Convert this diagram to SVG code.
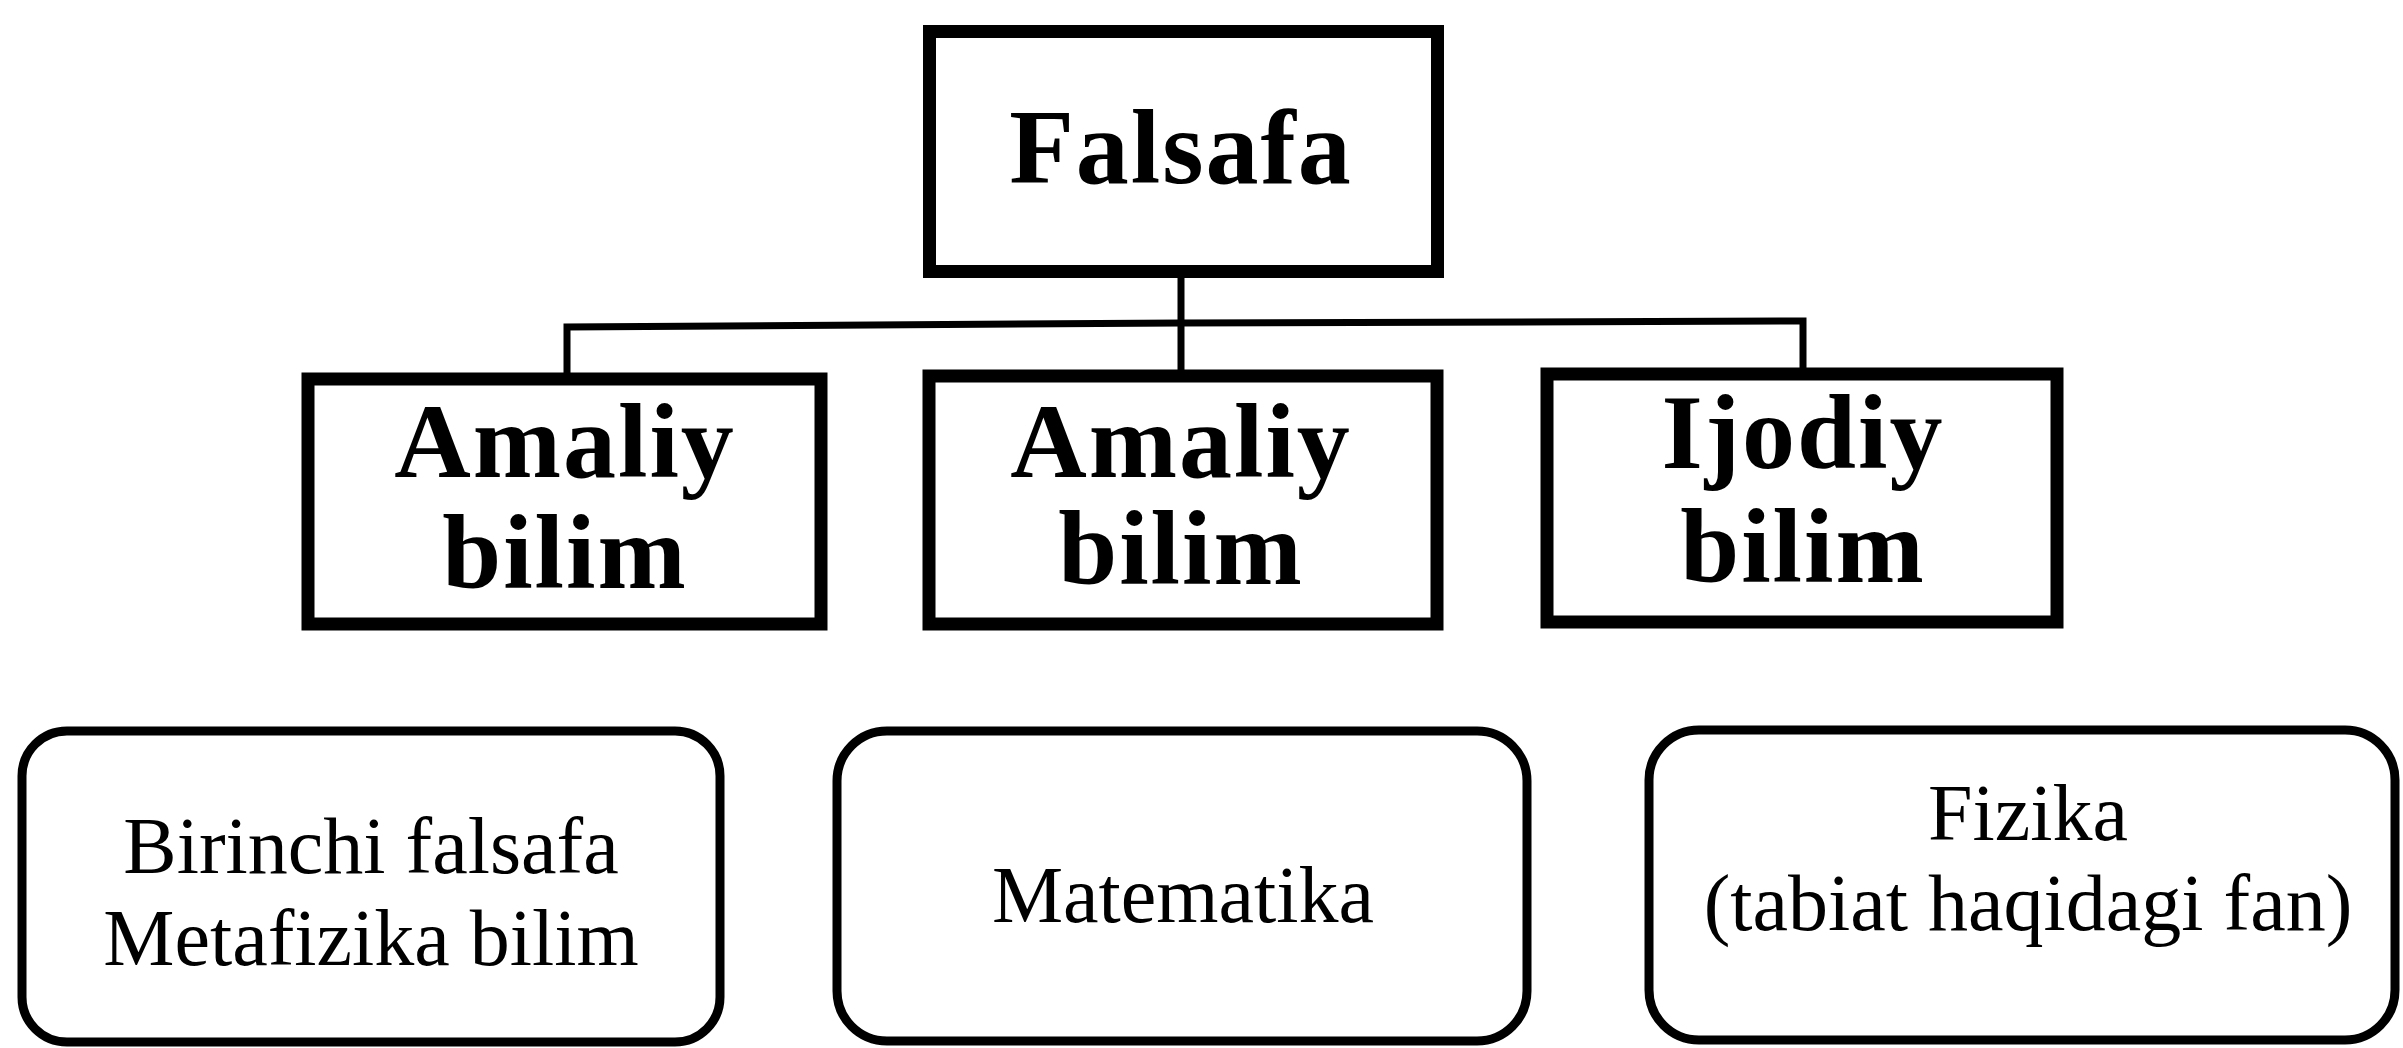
<svg xmlns="http://www.w3.org/2000/svg" width="2403" height="1048" viewBox="0 0 2403 1048">
<style>
.box{fill:#fff;stroke:#000;stroke-width:13}
.rbox{fill:#fff;stroke:#000;stroke-width:9}
.conn{fill:none;stroke:#000;stroke-width:7}
.bt{font-family:"Liberation Serif","Times New Roman",serif;font-weight:bold;font-size:106px;text-anchor:middle;fill:#000;letter-spacing:2px}
.rt{font-family:"Liberation Serif","Times New Roman",serif;font-size:80px;text-anchor:middle;fill:#000}
</style>
<rect width="2403" height="1048" fill="#fff"/>
<g id="connectors">
<line class="conn" x1="1181" y1="271" x2="1181" y2="376" stroke-width="10"/>
<polyline class="conn" points="567,376 567,327 1181,323 1803,321 1803,374"/>
</g>
<g id="falsafa">
<rect class="box" x="929.5" y="31.5" width="508" height="240"/>
<text class="bt" x="1181" y="183">Falsafa</text>
</g>
<g id="amaliy1">
<rect class="box" x="308" y="379" width="513" height="245"/>
<text class="bt" x="565" y="477">Amaliy</text>
<text class="bt" x="565" y="588">bilim</text>
</g>
<g id="amaliy2">
<rect class="box" x="929" y="376" width="508" height="248"/>
<text class="bt" x="1181" y="477">Amaliy</text>
<text class="bt" x="1181" y="584">bilim</text>
</g>
<g id="ijodiy">
<rect class="box" x="1547" y="374" width="510" height="248"/>
<text class="bt" x="1803" y="468">Ijodiy</text>
<text class="bt" x="1803" y="582">bilim</text>
</g>
<g id="birinchi">
<rect class="rbox" x="22" y="731" width="698" height="311" rx="45" ry="45"/>
<text class="rt" x="371" y="873">Birinchi falsafa</text>
<text class="rt" x="371" y="965">Metafizika bilim</text>
</g>
<g id="matematika">
<rect class="rbox" x="837" y="731" width="690" height="310" rx="50" ry="50" stroke-width="10"/>
<text class="rt" x="1183" y="922">Matematika</text>
</g>
<g id="fizika">
<rect class="rbox" x="1649" y="730" width="746" height="310" rx="50" ry="50" stroke-width="10"/>
<text class="rt" x="2028" y="840">Fizika</text>
<text class="rt" x="2028" y="930">(tabiat haqidagi fan)</text>
</g>
</svg>
